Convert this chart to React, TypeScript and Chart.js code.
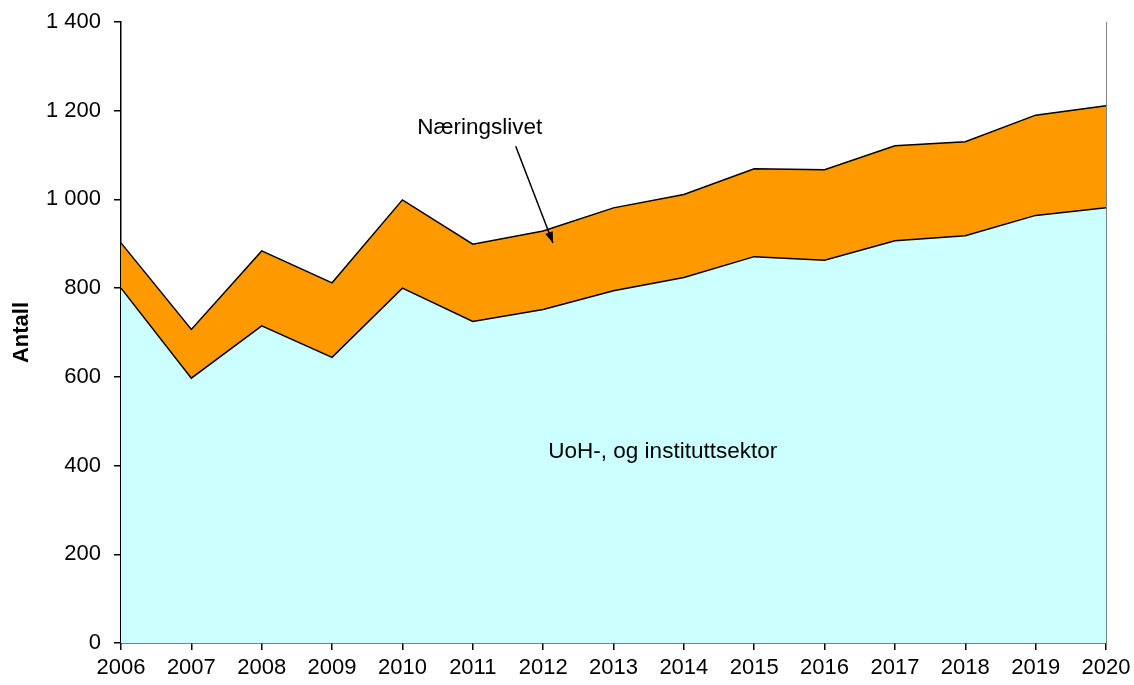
import React, { useEffect, useRef } from "react";
import { Chart, registerables } from "chart.js";

Chart.register(...registerables);

const years = ["2006", "2007", "2008", "2009", "2010", "2011", "2012", "2013", "2014", "2015", "2016", "2017", "2018", "2019", "2020"];
const uohInstitutt = [800, 597, 715, 644, 800, 725, 752, 794, 824, 871, 863, 907, 918, 964, 981];
const naeringslivet = [102, 110, 169, 168, 199, 174, 177, 187, 187, 198, 204, 214, 212, 226, 230];
const yTicks = [0, 200, 400, 600, 800, 1000, 1200, 1400];

const FONT = "'Liberation Sans', Arial, sans-serif";

const fmt = (v: number) => {
  const s = String(Math.round(v));
  return s.replace(/\B(?=(\d{3})+(?!\d))/g, " ");
};

const annotations = {
  id: "annotations",
  afterDatasetsDraw(chart: any) {
    const { ctx, scales, chartArea } = chart;
    const x = scales.x;
    const y = scales.y;
    ctx.save();
    // right border
    ctx.strokeStyle = "#808080";
    ctx.lineWidth = 1;
    ctx.beginPath();
    ctx.moveTo(chartArea.right + 0.5, chartArea.top);
    ctx.lineTo(chartArea.right + 0.5, chartArea.bottom);
    ctx.stroke();

    ctx.fillStyle = "#000";
    ctx.font = `22.5px ${FONT}`;
    ctx.textAlign = "center";
    ctx.textBaseline = "middle";
    ctx.fillText("Næringslivet", x.getPixelForValue(5.1), y.getPixelForValue(1161));
    ctx.fillText("UoH-, og instituttsektor", x.getPixelForValue(7.7), y.getPixelForValue(431));

    // arrow
    const x1 = x.getPixelForValue(5.61), y1 = y.getPixelForValue(1120);
    const x2 = x.getPixelForValue(6.14), y2 = y.getPixelForValue(902);
    ctx.strokeStyle = "#000";
    ctx.lineWidth = 1.5;
    ctx.beginPath();
    ctx.moveTo(x1, y1);
    ctx.lineTo(x2, y2);
    ctx.stroke();
    const ang = Math.atan2(y2 - y1, x2 - x1);
    const L = 11, W = 4;
    ctx.beginPath();
    ctx.moveTo(x2, y2);
    ctx.lineTo(x2 - L * Math.cos(ang) + W * Math.sin(ang), y2 - L * Math.sin(ang) - W * Math.cos(ang));
    ctx.lineTo(x2 - L * Math.cos(ang) - W * Math.sin(ang), y2 - L * Math.sin(ang) + W * Math.cos(ang));
    ctx.closePath();
    ctx.fill();

    // y axis title
    ctx.font = `bold 22px ${FONT}`;
    ctx.translate(22, (chartArea.top + chartArea.bottom) / 2);
    ctx.rotate(-Math.PI / 2);
    ctx.fillText("Antall", 0, 0);
    ctx.restore();
  },
};

export default function App() {
  const ref = useRef<HTMLCanvasElement>(null);
  useEffect(() => {
    if (!ref.current) return;
    const chart = new Chart(ref.current, {
      type: "line",
      data: {
        labels: years,
        datasets: [
          {
            label: "UoH-, og instituttsektor",
            data: uohInstitutt,
            fill: "origin",
            backgroundColor: "#CCFFFF",
            borderColor: "#000",
            borderWidth: 1.5,
            pointRadius: 0,
            tension: 0,
          },
          {
            label: "Næringslivet",
            data: naeringslivet,
            fill: "-1",
            backgroundColor: "#FF9900",
            borderColor: "#000",
            borderWidth: 1.5,
            pointRadius: 0,
            tension: 0,
          },
        ],
      },
      options: {
        animation: false,
        responsive: false,
        maintainAspectRatio: false,
        layout: { padding: { left: 0, right: 28, top: 22, bottom: 0 } },
        plugins: { legend: { display: false }, tooltip: { enabled: false } },
        scales: {
          x: {
            type: "category",
            offset: false,
            grid: { drawOnChartArea: false, drawTicks: true, tickLength: 7, color: "#000", lineWidth: 1.5 },
            border: { color: "#000", width: 1.5 },
            ticks: { color: "#000", font: { family: FONT, size: 22 }, padding: 5, maxRotation: 0, autoSkip: false },
            afterFit: (s: any) => { s.height = 42; s.paddingLeft = 0; s.paddingRight = 0; },
          },
          y: {
            stacked: true,
            min: 0,
            max: 1400,
            afterBuildTicks: (s: any) => { s.ticks = yTicks.map((v) => ({ value: v })); },
            grid: { drawOnChartArea: false, drawTicks: true, tickLength: 7, color: "#000", lineWidth: 1.5 },
            border: { color: "#000", width: 1.5 },
            ticks: { color: "#000", font: { family: FONT, size: 22 }, padding: 13, callback: (v: any) => fmt(Number(v)) },
            afterFit: (s: any) => { s.width = 121; s.paddingTop = 0; s.paddingBottom = 0; },
          },
        },
      },
      plugins: [annotations],
    });
    return () => chart.destroy();
  }, []);
  return (
    <div style={{ position: "fixed", left: 0, top: 0, width: 1134, height: 685, background: "#fff" }}>
      <canvas ref={ref} width={1134} height={685} style={{ display: "block" }} />
    </div>
  );
}
